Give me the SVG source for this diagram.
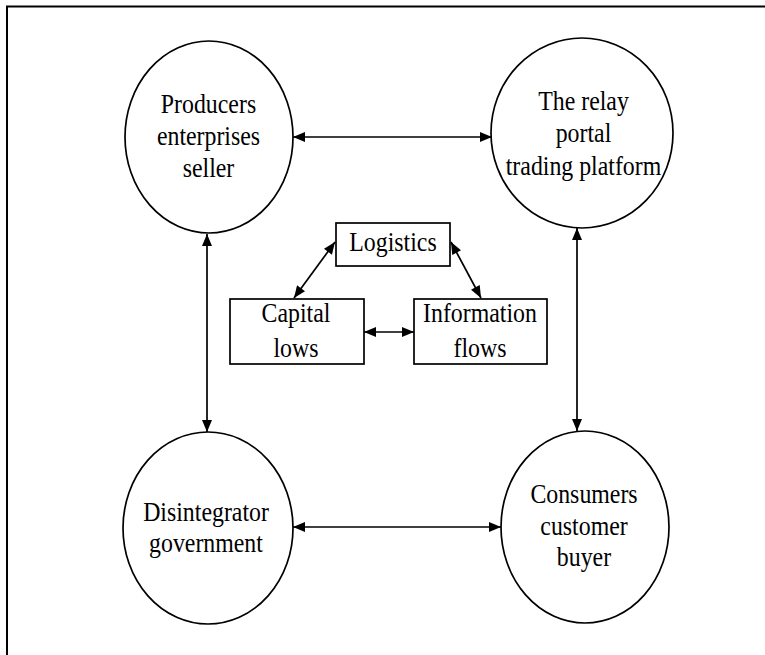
<svg xmlns="http://www.w3.org/2000/svg" width="765" height="655" viewBox="0 0 765 655">
<defs>
<style>
.shape{fill:#fff;stroke:#000;stroke-width:1.7}
.conn{fill:none;stroke:#000;stroke-width:1.7}
.lbl{font-family:"Liberation Serif","Times New Roman",serif;font-size:26.5px;text-anchor:middle;fill:#000}
</style>
<marker id="ah" viewBox="0 0 12 10" refX="12" refY="5" markerWidth="13" markerHeight="10" markerUnits="userSpaceOnUse" orient="auto-start-reverse">
<path d="M0,0 L12,5 L0,10 Z" fill="#000"/>
</marker>
</defs>
<rect width="765" height="655" fill="#fff"/>
<path d="M7,655 L7,6.5 L765,6.5" fill="none" stroke="#000" stroke-width="2"/>
<g id="producers">
<ellipse class="shape" cx="209" cy="137" rx="84" ry="96"/>
<g transform="translate(208.5 0) scale(0.9 1)">
<text class="lbl" x="0" y="113">Producers</text>
<text class="lbl" x="0" y="145">enterprises</text>
<text class="lbl" x="0" y="177">seller</text>
</g>
</g>
<g id="relay">
<ellipse class="shape" cx="582" cy="133" rx="91" ry="95"/>
<g transform="translate(583.5 0) scale(0.9 1)">
<text class="lbl" x="0" y="110">The relay</text>
<text class="lbl" x="0" y="142">portal</text>
<text class="lbl" x="0" y="175">trading platform</text>
</g>
</g>
<g id="disintegrator">
<ellipse class="shape" cx="208" cy="528" rx="85" ry="96"/>
<g transform="translate(206 0) scale(0.9 1)">
<text class="lbl" x="0" y="521">Disintegrator</text>
<text class="lbl" x="0" y="552">government</text>
</g>
</g>
<g id="consumers">
<ellipse class="shape" cx="585" cy="527" rx="84" ry="96"/>
<g transform="translate(584 0) scale(0.9 1)">
<text class="lbl" x="0" y="503">Consumers</text>
<text class="lbl" x="0" y="535">customer</text>
<text class="lbl" x="0" y="566">buyer</text>
</g>
</g>
<g id="logistics">
<rect class="shape" x="336" y="223" width="114" height="43"/>
<g transform="translate(393 0) scale(0.9 1)">
<text class="lbl" x="0" y="251">Logistics</text>
</g>
</g>
<g id="capital">
<rect class="shape" x="230" y="299" width="134" height="65"/>
<g transform="translate(296 0) scale(0.9 1)">
<text class="lbl" x="0" y="322">Capital</text>
<text class="lbl" x="0" y="357">lows</text>
</g>
</g>
<g id="information">
<rect class="shape" x="414" y="299" width="133" height="65"/>
<g transform="translate(480 0) scale(0.9 1)">
<text class="lbl" x="0" y="322">Information</text>
<text class="lbl" x="0" y="357">flows</text>
</g>
</g>
<g id="connectors">
<line class="conn" x1="293" y1="137" x2="492" y2="137" marker-start="url(#ah)" marker-end="url(#ah)"/>
<line class="conn" x1="293" y1="527" x2="501" y2="527" marker-start="url(#ah)" marker-end="url(#ah)"/>
<line class="conn" x1="207" y1="234" x2="207" y2="432" marker-start="url(#ah)" marker-end="url(#ah)"/>
<line class="conn" x1="577" y1="228" x2="577" y2="431" marker-start="url(#ah)" marker-end="url(#ah)"/>
<line class="conn" x1="335" y1="242" x2="294" y2="298" marker-start="url(#ah)" marker-end="url(#ah)"/>
<line class="conn" x1="451" y1="242" x2="481" y2="298" marker-start="url(#ah)" marker-end="url(#ah)"/>
<line class="conn" x1="364" y1="332" x2="414" y2="332" marker-start="url(#ah)" marker-end="url(#ah)"/>
</g>
</svg>
